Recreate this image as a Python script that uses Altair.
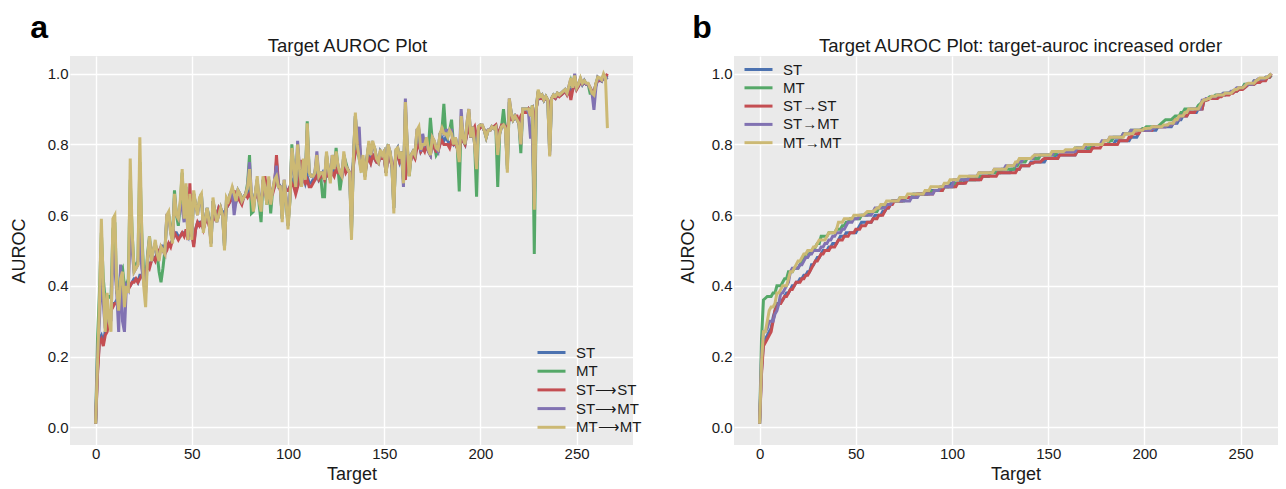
import altair as alt
import pandas as pd

series_names = ["ST", "MT", "ST→ST", "ST→MT", "MT→MT"]
series_colors = ["#4C72B0", "#55A868", "#C44E52", "#8172B2", "#CCB974"]
x_ticks = [0, 50, 100, 150, 200, 250]
y_ticks = [0.0, 0.2, 0.4, 0.6, 0.8, 1.0]

st = [
    0.01, 0.16, 0.25, 0.26, 0.24, 0.27, 0.28, 0.31, 0.33, 0.35,
    0.35, 0.36, 0.36, 0.37, 0.38, 0.38, 0.39, 0.40, 0.40, 0.41,
    0.42, 0.42, 0.41, 0.43, 0.43, 0.44, 0.44, 0.46, 0.46, 0.47,
    0.48, 0.48, 0.49, 0.50, 0.50, 0.51, 0.50, 0.51, 0.52, 0.52,
    0.53, 0.55, 0.55, 0.54, 0.54, 0.55, 0.55, 0.55, 0.54, 0.66,
    0.55, 0.52, 0.56, 0.58, 0.58, 0.58, 0.57, 0.58, 0.59, 0.58,
    0.58, 0.60, 0.60, 0.60, 0.62, 0.61, 0.61, 0.60, 0.62, 0.63,
    0.64, 0.65, 0.66, 0.64, 0.65, 0.65, 0.64, 0.65, 0.66, 0.66,
    0.67, 0.65, 0.64, 0.66, 0.67, 0.65, 0.65, 0.67, 0.70, 0.66,
    0.68, 0.66, 0.67, 0.68, 0.75, 0.69, 0.68, 0.66, 0.69, 0.67,
    0.67, 0.68, 0.70, 0.69, 0.67, 0.69, 0.70, 0.74, 0.71, 0.69,
    0.71, 0.69, 0.69, 0.70, 0.70, 0.72, 0.70, 0.71, 0.72, 0.70,
    0.72, 0.71, 0.71, 0.73, 0.72, 0.73, 0.72, 0.72, 0.72, 0.74,
    0.73, 0.73, 0.72, 0.69, 0.75, 0.80, 0.78, 0.80, 0.74, 0.75,
    0.73, 0.75, 0.77, 0.75, 0.77, 0.76, 0.75, 0.75, 0.77, 0.76,
    0.76, 0.72, 0.78, 0.76, 0.74, 0.70, 0.77, 0.77, 0.75, 0.77,
    0.72, 0.72, 0.77, 0.74, 0.76, 0.77, 0.77, 0.80, 0.81, 0.78,
    0.79, 0.79, 0.80, 0.78, 0.77, 0.81, 0.80, 0.78, 0.78, 0.81,
    0.82, 0.81, 0.82, 0.81, 0.80, 0.81, 0.80, 0.81, 0.79, 0.77,
    0.84, 0.81, 0.80, 0.84, 0.86, 0.82, 0.84, 0.84, 0.80, 0.84,
    0.85, 0.85, 0.84, 0.83, 0.84, 0.84, 0.85, 0.85, 0.85, 0.82,
    0.84, 0.85, 0.86, 0.85, 0.80, 0.89, 0.88, 0.87, 0.88, 0.87,
    0.86, 0.85, 0.89, 0.89, 0.89, 0.90, 0.89, 0.90, 0.80, 0.90,
    0.94, 0.93, 0.935, 0.925, 0.935, 0.925, 0.88, 0.93, 0.935, 0.93,
    0.94, 0.94, 0.94, 0.945, 0.95, 0.945, 0.96, 0.95, 0.955, 0.98,
    0.96, 0.965, 0.98, 0.97, 0.975, 0.97, 0.97, 0.96, 0.95, 0.945,
    0.97, 0.985, 0.985, 0.98, 0.99, 0.99, 0.995,
]

mt = [
    0.01, 0.25, 0.38, 0.55, 0.42, 0.36, 0.37, 0.37, 0.365, 0.56,
    0.58, 0.38, 0.37, 0.44, 0.45, 0.40, 0.40, 0.42, 0.70, 0.55,
    0.45, 0.46, 0.47, 0.75, 0.55, 0.44, 0.40, 0.49, 0.54, 0.48,
    0.50, 0.52, 0.49, 0.44, 0.41, 0.45, 0.50, 0.59, 0.60, 0.56,
    0.54, 0.67, 0.60, 0.57, 0.63, 0.72, 0.59, 0.68, 0.54, 0.65,
    0.54, 0.66, 0.63, 0.61, 0.64, 0.66, 0.56, 0.59, 0.62, 0.59,
    0.52, 0.64, 0.61, 0.59, 0.60, 0.62, 0.60, 0.51, 0.64, 0.64,
    0.66, 0.67, 0.65, 0.64, 0.67, 0.66, 0.65, 0.65, 0.66, 0.69,
    0.77, 0.605, 0.61, 0.66, 0.70, 0.63, 0.58, 0.70, 0.68, 0.63,
    0.70, 0.605, 0.67, 0.69, 0.70, 0.68, 0.68, 0.59, 0.69, 0.64,
    0.57, 0.64, 0.80, 0.73, 0.667, 0.79, 0.72, 0.68, 0.75, 0.70,
    0.865, 0.72, 0.71, 0.71, 0.72, 0.76, 0.71, 0.71, 0.652, 0.652,
    0.77, 0.73, 0.70, 0.76, 0.73, 0.79, 0.73, 0.67, 0.71, 0.77,
    0.75, 0.73, 0.72, 0.55, 0.76, 0.88, 0.79, 0.76, 0.73, 0.74,
    0.71, 0.76, 0.80, 0.77, 0.80, 0.79, 0.76, 0.75, 0.78, 0.77,
    0.78, 0.72, 0.79, 0.78, 0.74, 0.62, 0.78, 0.79, 0.76, 0.78,
    0.70, 0.90, 0.79, 0.71, 0.77, 0.78, 0.77, 0.83, 0.84, 0.78,
    0.80, 0.80, 0.81, 0.79, 0.875, 0.81, 0.80, 0.77, 0.78, 0.83,
    0.84, 0.915, 0.83, 0.82, 0.84, 0.87, 0.80, 0.82, 0.79, 0.667,
    0.87, 0.82, 0.80, 0.85, 0.89, 0.82, 0.85, 0.80, 0.652, 0.85,
    0.855, 0.85, 0.84, 0.82, 0.84, 0.84, 0.85, 0.845, 0.85, 0.68,
    0.83, 0.85, 0.90, 0.845, 0.73, 0.92, 0.89, 0.87, 0.88, 0.87,
    0.86, 0.775, 0.90, 0.90, 0.90, 0.90, 0.88, 0.91, 0.49, 0.90,
    0.95, 0.935, 0.94, 0.925, 0.935, 0.925, 0.78, 0.93, 0.94, 0.935,
    0.945, 0.94, 0.945, 0.95, 0.955, 0.945, 0.96, 0.98, 0.96, 0.99,
    0.96, 0.97, 0.985, 0.97, 0.98, 0.97, 0.97, 0.945, 0.945, 0.94,
    0.97, 0.99, 0.985, 0.98, 0.995, 0.985, 0.99,
]

st_st = [
    0.01, 0.15, 0.24, 0.25, 0.23, 0.26, 0.27, 0.30, 0.33, 0.34,
    0.35, 0.35, 0.36, 0.37, 0.37, 0.38, 0.39, 0.39, 0.40, 0.41,
    0.41, 0.42, 0.41, 0.42, 0.43, 0.44, 0.43, 0.46, 0.45, 0.47,
    0.48, 0.47, 0.49, 0.50, 0.51, 0.50, 0.49, 0.50, 0.52, 0.51,
    0.53, 0.55, 0.54, 0.53, 0.54, 0.55, 0.54, 0.56, 0.53, 0.69,
    0.55, 0.51, 0.56, 0.58, 0.57, 0.58, 0.56, 0.58, 0.59, 0.57,
    0.57, 0.60, 0.59, 0.60, 0.62, 0.61, 0.60, 0.59, 0.62, 0.63,
    0.64, 0.65, 0.67, 0.64, 0.65, 0.64, 0.63, 0.65, 0.66, 0.65,
    0.66, 0.65, 0.64, 0.65, 0.66, 0.64, 0.65, 0.66, 0.71, 0.66,
    0.67, 0.66, 0.66, 0.68, 0.77, 0.69, 0.67, 0.66, 0.68, 0.67,
    0.67, 0.68, 0.69, 0.68, 0.66, 0.68, 0.70, 0.756, 0.70, 0.69,
    0.70, 0.68, 0.68, 0.69, 0.70, 0.71, 0.70, 0.71, 0.71, 0.70,
    0.72, 0.71, 0.71, 0.72, 0.71, 0.73, 0.72, 0.72, 0.71, 0.74,
    0.72, 0.73, 0.72, 0.70, 0.74, 0.78, 0.78, 0.81, 0.74, 0.75,
    0.72, 0.75, 0.76, 0.747, 0.77, 0.76, 0.75, 0.747, 0.77, 0.76,
    0.76, 0.72, 0.77, 0.76, 0.74, 0.72, 0.77, 0.77, 0.75, 0.76,
    0.72, 0.70, 0.77, 0.74, 0.76, 0.77, 0.76, 0.79, 0.80, 0.78,
    0.79, 0.78, 0.80, 0.78, 0.77, 0.81, 0.79, 0.78, 0.78, 0.80,
    0.81, 0.80, 0.80, 0.80, 0.79, 0.81, 0.80, 0.80, 0.79, 0.78,
    0.83, 0.81, 0.80, 0.83, 0.85, 0.82, 0.84, 0.85, 0.82, 0.84,
    0.85, 0.85, 0.84, 0.83, 0.84, 0.84, 0.85, 0.85, 0.855, 0.83,
    0.84, 0.855, 0.855, 0.85, 0.84, 0.88, 0.87, 0.87, 0.88, 0.88,
    0.86, 0.88, 0.89, 0.89, 0.89, 0.90, 0.89, 0.90, 0.87, 0.90,
    0.94, 0.93, 0.93, 0.925, 0.93, 0.925, 0.90, 0.93, 0.935, 0.93,
    0.94, 0.935, 0.94, 0.945, 0.95, 0.94, 0.955, 0.926, 0.955, 0.975,
    0.955, 0.965, 0.975, 0.97, 0.975, 0.97, 0.97, 0.96, 0.95, 0.945,
    0.97, 0.98, 0.98, 0.98, 0.99, 0.99, 1.0,
]

st_mt = [
    0.01, 0.20, 0.30, 0.45, 0.35, 0.28, 0.33, 0.32, 0.30, 0.50,
    0.45, 0.38, 0.27, 0.46, 0.30, 0.27, 0.40, 0.39, 0.55, 0.50,
    0.44, 0.45, 0.46, 0.55, 0.45, 0.41, 0.38, 0.48, 0.53, 0.47,
    0.50, 0.52, 0.49, 0.48, 0.51, 0.50, 0.49, 0.60, 0.60, 0.55,
    0.53, 0.65, 0.60, 0.59, 0.63, 0.62, 0.58, 0.66, 0.54, 0.64,
    0.54, 0.66, 0.63, 0.60, 0.64, 0.66, 0.56, 0.59, 0.62, 0.58,
    0.52, 0.64, 0.61, 0.58, 0.60, 0.62, 0.60, 0.51, 0.64, 0.64,
    0.66, 0.67, 0.60, 0.64, 0.67, 0.66, 0.64, 0.65, 0.66, 0.68,
    0.75, 0.66, 0.62, 0.66, 0.70, 0.64, 0.62, 0.70, 0.68, 0.64,
    0.70, 0.64, 0.67, 0.70, 0.74, 0.68, 0.68, 0.59, 0.70, 0.65,
    0.57, 0.65, 0.78, 0.73, 0.68, 0.81, 0.73, 0.68, 0.75, 0.70,
    0.84, 0.72, 0.71, 0.71, 0.72, 0.78, 0.71, 0.72, 0.72, 0.70,
    0.77, 0.73, 0.70, 0.77, 0.73, 0.77, 0.74, 0.72, 0.71, 0.77,
    0.74, 0.73, 0.72, 0.56, 0.76, 0.88, 0.81, 0.85, 0.73, 0.76,
    0.71, 0.76, 0.80, 0.77, 0.80, 0.79, 0.76, 0.75, 0.78, 0.77,
    0.78, 0.72, 0.80, 0.78, 0.74, 0.62, 0.78, 0.79, 0.76, 0.78,
    0.68, 0.93, 0.79, 0.72, 0.77, 0.78, 0.77, 0.84, 0.84, 0.78,
    0.83, 0.80, 0.81, 0.78, 0.77, 0.82, 0.81, 0.79, 0.78, 0.83,
    0.84, 0.83, 0.84, 0.84, 0.84, 0.84, 0.80, 0.82, 0.79, 0.76,
    0.90, 0.82, 0.80, 0.86, 0.90, 0.82, 0.85, 0.80, 0.74, 0.85,
    0.855, 0.855, 0.84, 0.82, 0.84, 0.84, 0.85, 0.845, 0.85, 0.78,
    0.83, 0.85, 0.855, 0.845, 0.74, 0.93, 0.89, 0.87, 0.88, 0.87,
    0.86, 0.80, 0.90, 0.90, 0.90, 0.89, 0.82, 0.82, 0.63, 0.90,
    0.95, 0.935, 0.94, 0.925, 0.935, 0.925, 0.77, 0.93, 0.94, 0.935,
    0.945, 0.94, 0.945, 0.95, 0.955, 0.945, 0.965, 0.985, 0.96, 1.0,
    0.96, 0.97, 0.985, 0.97, 0.98, 0.97, 0.97, 0.96, 0.945, 0.898,
    0.96, 0.99, 0.985, 0.98, 0.995, 0.985, 0.99,
]

mt_mt = [
    0.01, 0.18, 0.35, 0.59, 0.40, 0.27, 0.38, 0.30, 0.27, 0.59,
    0.60, 0.39, 0.33, 0.42, 0.44, 0.34, 0.40, 0.38, 0.76, 0.55,
    0.44, 0.45, 0.46, 0.82, 0.55, 0.40, 0.34, 0.48, 0.54, 0.47,
    0.50, 0.53, 0.49, 0.47, 0.51, 0.50, 0.49, 0.60, 0.61, 0.55,
    0.52, 0.66, 0.60, 0.59, 0.64, 0.73, 0.59, 0.69, 0.53, 0.66,
    0.53, 0.67, 0.63, 0.60, 0.65, 0.66, 0.55, 0.59, 0.62, 0.58,
    0.51, 0.65, 0.61, 0.58, 0.60, 0.62, 0.60, 0.50, 0.65, 0.64,
    0.66, 0.68, 0.66, 0.64, 0.67, 0.66, 0.64, 0.65, 0.66, 0.68,
    0.73, 0.66, 0.61, 0.66, 0.71, 0.64, 0.61, 0.71, 0.68, 0.63,
    0.71, 0.63, 0.67, 0.70, 0.71, 0.68, 0.68, 0.58, 0.70, 0.64,
    0.56, 0.64, 0.79, 0.74, 0.68, 0.80, 0.73, 0.68, 0.76, 0.70,
    0.86, 0.72, 0.71, 0.71, 0.72, 0.77, 0.71, 0.72, 0.72, 0.70,
    0.78, 0.73, 0.69, 0.77, 0.73, 0.78, 0.74, 0.72, 0.71, 0.78,
    0.74, 0.73, 0.72, 0.53, 0.76, 0.89, 0.80, 0.76, 0.72, 0.77,
    0.70, 0.76, 0.81, 0.77, 0.81, 0.79, 0.76, 0.75, 0.785, 0.77,
    0.78, 0.71, 0.80, 0.78, 0.74, 0.605, 0.785, 0.79, 0.76, 0.78,
    0.69, 0.92, 0.80, 0.71, 0.77, 0.78, 0.77, 0.84, 0.85, 0.785,
    0.80, 0.80, 0.82, 0.785, 0.77, 0.82, 0.81, 0.79, 0.785, 0.83,
    0.846, 0.83, 0.83, 0.82, 0.84, 0.83, 0.80, 0.82, 0.79, 0.75,
    0.88, 0.82, 0.80, 0.86, 0.90, 0.82, 0.85, 0.80, 0.73, 0.85,
    0.855, 0.855, 0.84, 0.82, 0.84, 0.84, 0.85, 0.845, 0.85, 0.77,
    0.83, 0.85, 0.855, 0.845, 0.72, 0.93, 0.89, 0.87, 0.88, 0.87,
    0.86, 0.80, 0.90, 0.90, 0.90, 0.90, 0.88, 0.91, 0.615, 0.90,
    0.955, 0.936, 0.94, 0.926, 0.936, 0.926, 0.766, 0.93, 0.94, 0.936,
    0.945, 0.94, 0.945, 0.95, 0.955, 0.945, 0.964, 0.988, 0.96, 0.995,
    0.96, 0.97, 0.988, 0.973, 0.98, 0.973, 0.973, 0.96, 0.945, 0.94,
    0.973, 0.99, 0.988, 0.983, 1.0, 0.988, 0.846,
]

all_series = [st, mt, st_st, st_mt, mt_mt]
for s in all_series:
    assert len(s) == 267, len(s)

rows_a, rows_b = [], []
for name, vals in zip(series_names, all_series):
    for i, v in enumerate(vals):
        rows_a.append({"target": i, "auroc": v, "model": name})
    for i, v in enumerate(sorted(vals)):
        rows_b.append({"target": i, "auroc": v, "model": name})
df_a = pd.DataFrame(rows_a)
df_b = pd.DataFrame(rows_b)

FONT = "Liberation Sans"


def panel(df, xmax, width, title, title_dx, legend_x, legend_y, row_pad,
          y_title_pad, x_title_pad, label_expr=None):
    legend_kwargs = dict(
        title=None, orient="none", legendX=legend_x, legendY=legend_y,
        symbolType="M-2,0H2", symbolSize=196, symbolStrokeWidth=3,
        labelFontSize=15, labelFont=FONT, labelColor="#1a1a1a",
        labelOffset=16, rowPadding=row_pad, padding=0,
    )
    if label_expr:
        legend_kwargs["labelExpr"] = label_expr
    legend = alt.Legend(**legend_kwargs)
    layers = []
    for name in series_names:
        layers.append(
            alt.Chart(df)
            .transform_filter(alt.datum.model == name)
            .mark_line(strokeWidth=3, clip=True)
            .encode(
                x=alt.X("target:Q",
                        scale=alt.Scale(domain=[-13.3, xmax], nice=False, zero=False),
                        axis=alt.Axis(values=x_ticks, title="Target", format="d",
                                      titlePadding=x_title_pad)),
                y=alt.Y("auroc:Q",
                        scale=alt.Scale(domain=[-0.05, 1.05], nice=False, zero=False),
                        axis=alt.Axis(values=y_ticks, title="AUROC", format=".1f",
                                      titlePadding=y_title_pad)),
                color=alt.Color("model:N",
                                scale=alt.Scale(domain=series_names, range=series_colors),
                                legend=legend),
            )
        )
    return alt.layer(*layers).properties(
        width=width, height=389,
        title=alt.Title(title, fontSize=18.5, fontWeight="normal", font=FONT,
                        color="#1a1a1a", offset=1, dx=title_dx),
    )


pa = panel(df_a, 279.3, 563, "Target AUROC Plot", -4, 473, 288, 1.7, 19, 4,
           label_expr="replace(datum.label, '→', '⟶')")
pb = panel(df_b, 279.3, 563, "Target AUROC Plot: target-auroc increased order", 5,
           16, 5, 1.3, 14, 4)

wa = alt.hconcat(pa, title=alt.Title("a", anchor="start", fontSize=32, fontWeight="bold",
                                     font=FONT, color="#000000", dx=20, offset=-8))
wb = alt.hconcat(pb, title=alt.Title("b", anchor="start", fontSize=32, fontWeight="bold",
                                     font=FONT, color="#000000", dx=13, offset=-8))

chart = (
    alt.hconcat(wa, wb, spacing=37)
    .resolve_legend(color="independent")
    .properties(
        autosize=alt.AutoSizeParams(type="none"),
        padding={"left": 62, "top": 48, "right": 1208, "bottom": 424},
    )
    .configure_view(fill="#EAEAEA", stroke=None)
    .configure_axis(
        grid=True, gridColor="#FFFFFF", gridWidth=1.4, domain=False, ticks=False,
        labelFont=FONT, titleFont=FONT, labelFontSize=15, titleFontSize=18,
        titleFontWeight="normal", labelColor="#1a1a1a", titleColor="#1a1a1a",
    )
    .configure_axisX(labelPadding=1)
    .configure_axisY(labelPadding=2)
    .configure_concat(spacing=37)
)

chart.save("out.html", embed_options={"renderer": "svg", "actions": False})
